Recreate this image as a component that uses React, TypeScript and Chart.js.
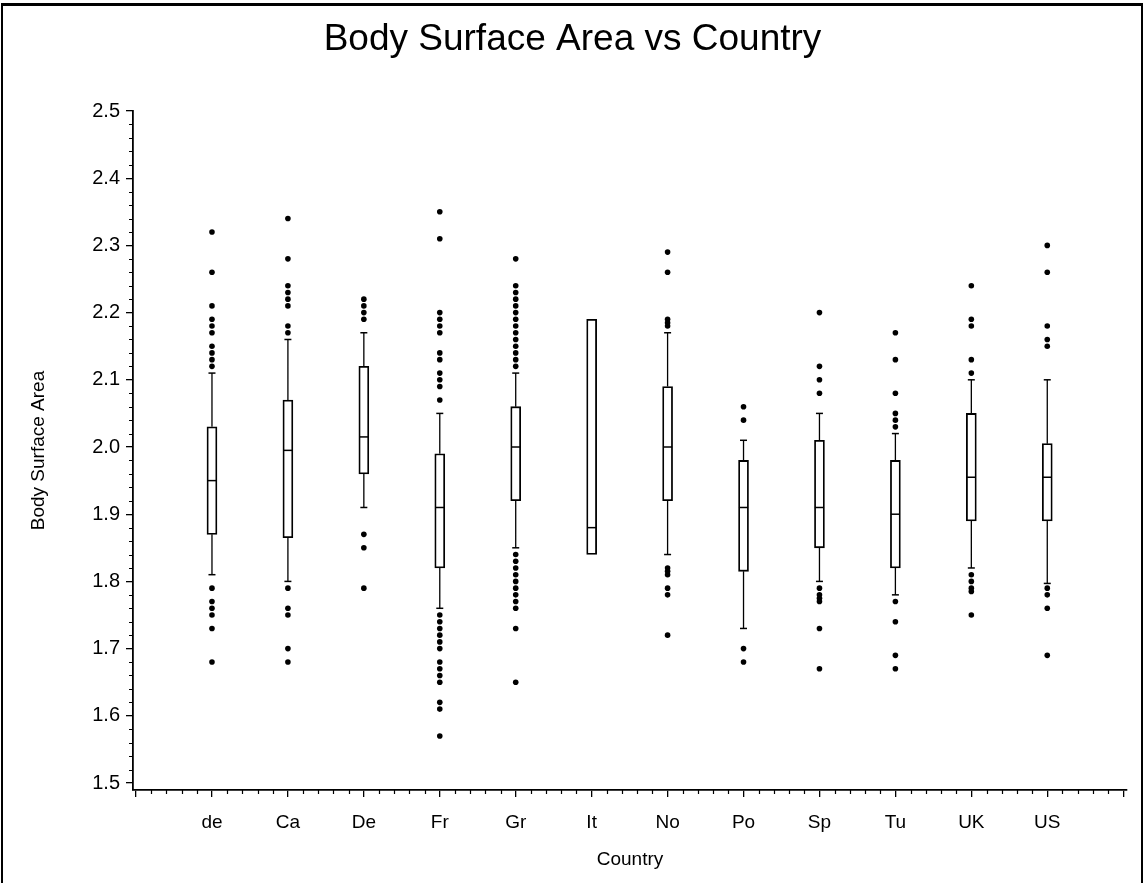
import React, { useEffect, useRef } from 'react';
import { Chart, registerables } from 'chart.js';

Chart.register(...registerables);

// ---- data ----
const countries = ['de', 'Ca', 'De', 'Fr', 'Gr', 'It', 'No', 'Po', 'Sp', 'Tu', 'UK', 'US'];

const whiskerLow = [1.81, 1.80, 1.91, 1.76, 1.85, 1.84, 1.84, 1.73, 1.80, 1.78, 1.82, 1.797];
const q1 = [1.87, 1.865, 1.96, 1.82, 1.92, 1.84, 1.92, 1.815, 1.85, 1.82, 1.89, 1.89];
const medians = [1.95, 1.995, 2.015, 1.91, 2.00, 1.88, 2.00, 1.91, 1.91, 1.90, 1.955, 1.955];
const q3 = [2.03, 2.07, 2.12, 1.99, 2.06, 2.19, 2.09, 1.98, 2.01, 1.98, 2.05, 2.005];
const whiskerHigh = [2.11, 2.16, 2.17, 2.05, 2.11, 2.19, 2.17, 2.01, 2.05, 2.02, 2.10, 2.10];

const outDe = [2.32, 2.26, 2.21, 2.19, 2.18, 2.17, 2.15, 2.14, 2.13, 2.12, 1.79, 1.77, 1.76, 1.75, 1.73, 1.68];
const outCa = [2.34, 2.28, 2.24, 2.23, 2.22, 2.21, 2.18, 2.17, 1.79, 1.76, 1.75, 1.70, 1.68];
const outDe2 = [2.22, 2.21, 2.20, 2.19, 1.87, 1.85, 1.79];
const outFr = [2.35, 2.31, 2.20, 2.19, 2.18, 2.17, 2.14, 2.13, 2.11, 2.10, 2.09, 2.07,
  1.75, 1.74, 1.73, 1.72, 1.71, 1.70, 1.68, 1.67, 1.66, 1.65, 1.62, 1.61, 1.57];
const outGr = [2.28, 2.24, 2.23, 2.22, 2.21, 2.20, 2.19, 2.18, 2.17, 2.16, 2.15, 2.14, 2.13, 2.12,
  1.84, 1.83, 1.82, 1.81, 1.80, 1.79, 1.78, 1.77, 1.76, 1.73, 1.65];
const outIt: number[] = [];
const outNo = [2.29, 2.26, 2.19, 2.185, 2.18, 1.82, 1.815, 1.81, 1.79, 1.78, 1.72];
const outPo = [2.06, 2.04, 1.70, 1.68];
const outSp = [2.20, 2.12, 2.10, 2.08, 1.79, 1.78, 1.775, 1.77, 1.73, 1.67];
const outTu = [2.17, 2.13, 2.08, 2.05, 2.04, 2.03, 1.77, 1.74, 1.69, 1.67];
const outUK = [2.24, 2.19, 2.18, 2.13, 2.11, 1.81, 1.80, 1.79, 1.785, 1.75];
const outUS = [2.30, 2.26, 2.18, 2.16, 2.15, 1.79, 1.78, 1.76, 1.69];

const outliers = [outDe, outCa, outDe2, outFr, outGr, outIt, outNo, outPo, outSp, outTu, outUK, outUS];

const xMajorTicks = [0, 1, 2, 3, 4, 5, 6, 7, 8, 9, 10, 11, 12, 13];
const yTicks = [1.5, 1.6, 1.7, 1.8, 1.9, 2.0, 2.1, 2.2, 2.3, 2.4, 2.5];

const FONT = "'Liberation Sans', Arial, sans-serif";

const minorTicks = {
  id: 'minorTicks',
  afterDraw(chart: any) {
    const { ctx, scales } = chart;
    const xs = scales.x;
    const ys = scales.y;
    ctx.save();
    ctx.strokeStyle = '#000';
    ctx.lineWidth = 1.2;
    ctx.beginPath();
    // x minor ticks: 5 subdivisions per unit
    for (let k = 0; k <= 13 * 5; k++) {
      if (k % 5 === 0) continue;
      const px = Math.round(xs.getPixelForValue(k / 5)) + 0.5;
      ctx.moveTo(px, xs.top);
      ctx.lineTo(px, xs.top + 4);
    }
    // y minor ticks: 5 subdivisions per 0.1
    for (let k = 0; k <= 50; k++) {
      if (k % 5 === 0) continue;
      const py = Math.round(ys.getPixelForValue(1.5 + k * 0.02)) + 0.5;
      ctx.moveTo(ys.right, py);
      ctx.lineTo(ys.right - 4, py);
    }
    ctx.stroke();
    ctx.restore();
  },
};

export default function App() {
  const ref = useRef<HTMLCanvasElement>(null);

  useEffect(() => {
    const canvas = ref.current;
    if (!canvas) return;

    const pos = countries.map((_, i) => i + 1);

    const outlierData: { x: number; y: number }[] = [];
    outliers.forEach((arr, i) => arr.forEach((v) => outlierData.push({ x: pos[i], y: v })));

    const whiskerData: { x: number; y: number | null }[] = [];
    pos.forEach((x, i) => {
      whiskerData.push({ x, y: whiskerLow[i] }, { x, y: q1[i] }, { x, y: null });
      whiskerData.push({ x, y: q3[i] }, { x, y: whiskerHigh[i] }, { x, y: null });
    });

    const capData: { x: number; y: number }[] = [];
    pos.forEach((x, i) => {
      if (whiskerLow[i] < q1[i]) capData.push({ x, y: whiskerLow[i] });
      if (whiskerHigh[i] > q3[i]) capData.push({ x, y: whiskerHigh[i] });
    });

    const medianData = pos.map((x, i) => ({ x, y: medians[i] }));
    const boxData = pos.map((x, i) => ({ x, y: [q1[i], q3[i]] }));

    const chart = new Chart(canvas, {
      type: 'scatter',
      data: {
        datasets: [
          {
            type: 'scatter',
            label: 'outliers',
            data: outlierData,
            pointRadius: 2.8,
            pointBackgroundColor: '#000',
            pointBorderWidth: 0,
            order: 0,
          },
          {
            type: 'scatter',
            label: 'median',
            data: medianData,
            pointStyle: 'line',
            pointRadius: 4.6,
            pointBorderColor: '#000',
            pointBorderWidth: 1.5,
            order: 1,
          },
          {
            type: 'scatter',
            label: 'caps',
            data: capData,
            pointStyle: 'line',
            pointRadius: 3.5,
            pointBorderColor: '#000',
            pointBorderWidth: 1.5,
            order: 2,
          },
          {
            type: 'bar',
            label: 'box',
            data: boxData as any,
            backgroundColor: '#fff',
            borderColor: '#000',
            borderWidth: 1.8,
            borderSkipped: false,
            barThickness: 10,
            order: 3,
          } as any,
          {
            type: 'line',
            label: 'whiskers',
            data: whiskerData as any,
            showLine: true,
            spanGaps: false,
            pointRadius: 0,
            borderColor: '#000',
            borderWidth: 1.3,
            order: 4,
          } as any,
        ],
      },
      options: {
        responsive: false,
        animation: false,
        events: [],
        devicePixelRatio: 1,
        layout: { padding: { left: 0, right: 0, top: 0, bottom: 0 } },
        plugins: {
          legend: { display: false },
          tooltip: { enabled: false },
          title: {
            display: true,
            text: 'Body Surface Area vs Country',
            color: '#000',
            font: { family: FONT, size: 37, weight: 'normal' },
            padding: { top: 18, bottom: 48.6 },
          },
        },
        scales: {
          x: {
            type: 'linear',
            position: 'bottom',
            min: -0.04,
            max: 13.05,
            offset: false,
            afterBuildTicks: (scale: any) => {
              scale.ticks = xMajorTicks.map((v) => ({ value: v }));
            },
            afterFit: (scale: any) => {
              scale.height = 93;
            },
            ticks: {
              autoSkip: false,
              maxRotation: 0,
              color: '#000',
              font: { family: FONT, size: 19 },
              padding: 14,
              callback: (v: any) => {
                const n = Math.round(Number(v));
                return n >= 1 && n <= countries.length ? countries[n - 1] : '';
              },
            },
            grid: {
              offset: false,
              drawOnChartArea: false,
              drawTicks: true,
              tickLength: 7,
              color: '#000',
              lineWidth: 1.3,
            },
            border: { display: true, color: '#000', width: 1.8 },
            title: {
              display: true,
              text: 'Country',
              color: '#000',
              font: { family: FONT, size: 19 },
              padding: { top: 0, bottom: 12 },
            },
          },
          y: {
            type: 'linear',
            position: 'left',
            min: 1.4896,
            max: 2.5,
            afterBuildTicks: (scale: any) => {
              scale.ticks = yTicks.map((v) => ({ value: v }));
            },
            afterFit: (scale: any) => {
              scale.width = 133;
            },
            ticks: {
              autoSkip: false,
              color: '#000',
              font: { family: FONT, size: 20 },
              padding: 6,
              callback: (v: any) => Number(v).toFixed(1),
            },
            grid: {
              drawOnChartArea: false,
              drawTicks: true,
              tickLength: 7,
              color: '#000',
              lineWidth: 1.3,
            },
            border: { display: true, color: '#000', width: 1.8 },
            title: {
              display: true,
              text: 'Body Surface Area',
              color: '#000',
              font: { family: FONT, size: 19 },
              padding: { top: 27, bottom: 0 },
            },
          },
          yRightSpace: {
            type: 'linear',
            position: 'right',
            display: true,
            min: 0,
            max: 1,
            afterFit: (scale: any) => {
              scale.width = 18;
            },
            ticks: { display: false },
            grid: { display: false, drawTicks: false },
            border: { display: false },
            title: { display: false },
          },
        },
      },
      plugins: [minorTicks],
    } as any);

    return () => chart.destroy();
  }, []);

  return (
    <div style={{ position: 'fixed', left: 0, top: 0, width: 1145, height: 883, background: '#fff', overflow: 'hidden' }}>
      <canvas ref={ref} width={1145} height={883} style={{ position: 'absolute', left: 0, top: 0, width: 1145, height: 883 }} />
      <div
        style={{
          position: 'absolute',
          left: 1,
          top: 3,
          width: 1142,
          height: 900,
          boxSizing: 'border-box',
          borderTop: '3px solid #000',
          borderLeft: '2px solid #000',
          borderRight: '2px solid #000',
          pointerEvents: 'none',
        }}
      />
    </div>
  );
}
